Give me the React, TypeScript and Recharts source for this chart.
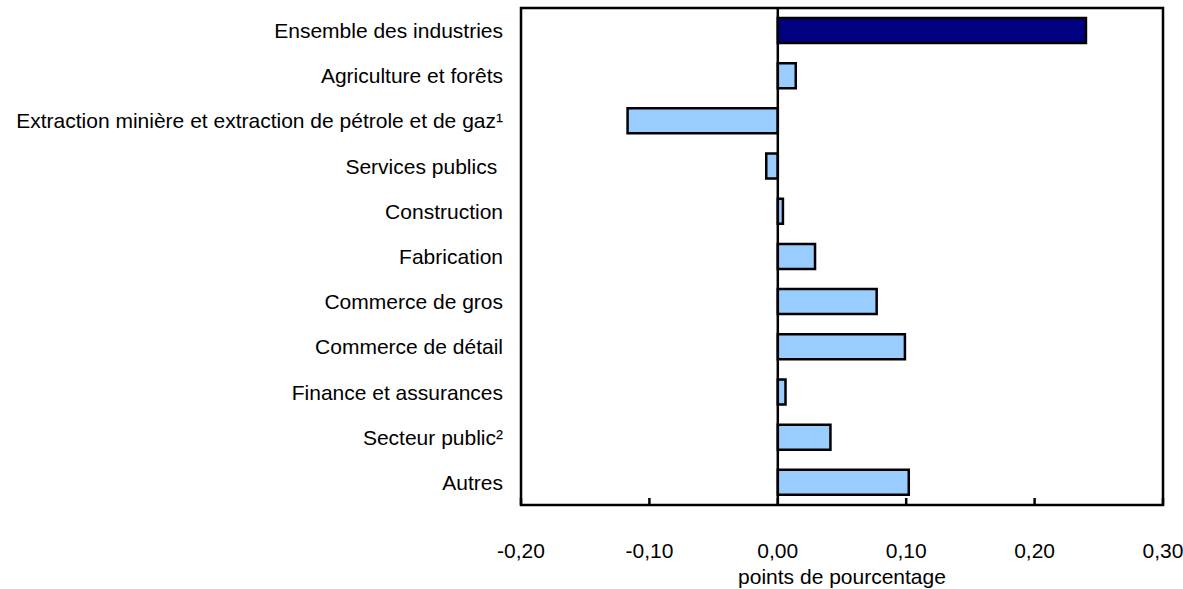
import React from 'react';
import {
  BarChart,
  Bar,
  XAxis,
  YAxis,
  Cell,
  ReferenceLine,
  ReferenceArea,
} from 'recharts';

const industries = [
  'Ensemble des industries',
  'Agriculture et forêts',
  'Extraction minière et extraction de pétrole et de gaz¹',
  'Services publics\u00a0',
  'Construction',
  'Fabrication',
  'Commerce de gros',
  'Commerce de détail',
  'Finance et assurances',
  'Secteur public²',
  'Autres',
];

const contributions = [0.24, 0.014, -0.117, -0.009, 0.004, 0.029, 0.077, 0.099, 0.006, 0.041, 0.102];

const xTicks = [-0.2, -0.1, 0, 0.1, 0.2, 0.3];

const data = industries.map((name, i) => ({ name, value: contributions[i] }));

const FONT = '"Liberation Sans", Arial, Helvetica, sans-serif';
const FS = 21;

const fmt = (v: number) => v.toFixed(2).replace('.', ',');

// ticks on the bottom axis point up into the plot
const XTick = (props: any) => {
  const { x, y, payload } = props;
  return (
    <g>
      <line x1={x} x2={x} y1={y} y2={y - 7} stroke="#000" strokeWidth={2.5} />
      <text x={x} y={y + 53} textAnchor="middle" fontSize={FS} fontFamily={FONT} fill="#000">
        {fmt(payload.value)}
      </text>
    </g>
  );
};

const App: React.FC = () => {
  return (
    <div style={{ position: 'absolute', left: 0, top: 0, background: '#fff' }}>
      <BarChart
        width={1183}
        height={589}
        data={data}
        layout="vertical"
        margin={{ top: 8, right: 20, left: 0, bottom: 0 }}
        barSize={25}
      >
        <XAxis
          type="number"
          domain={[-0.2, 0.3]}
          ticks={xTicks}
          allowDataOverflow
          axisLine={false}
          tickLine={false}
          tickSize={0}
          tickMargin={0}
          height={84}
          tick={<XTick />}
          label={{
            value: 'points de pourcentage',
            position: 'insideBottom',
            offset: 5,
            fontSize: FS,
            fontFamily: FONT,
            fill: '#000',
          }}
        />
        <YAxis
          type="category"
          dataKey="name"
          width={521}
          axisLine={false}
          tickLine={false}
          tickSize={0}
          tickMargin={18}
          interval={0}
          tick={{ fontSize: FS, fontFamily: FONT, fill: '#000' }}
        />
        <ReferenceArea x1={-0.2} x2={0.3} fill="none" stroke="#000" strokeWidth={2.5} ifOverflow="visible" />
        <Bar dataKey="value" stroke="#000" strokeWidth={2.5} isAnimationActive={false}>
          {data.map((d, i) => (
            <Cell key={d.name} fill={i === 0 ? '#000080' : '#99ccff'} />
          ))}
        </Bar>
        <ReferenceLine x={0} stroke="#000" strokeWidth={2.5} />
      </BarChart>
    </div>
  );
};

export default App;
